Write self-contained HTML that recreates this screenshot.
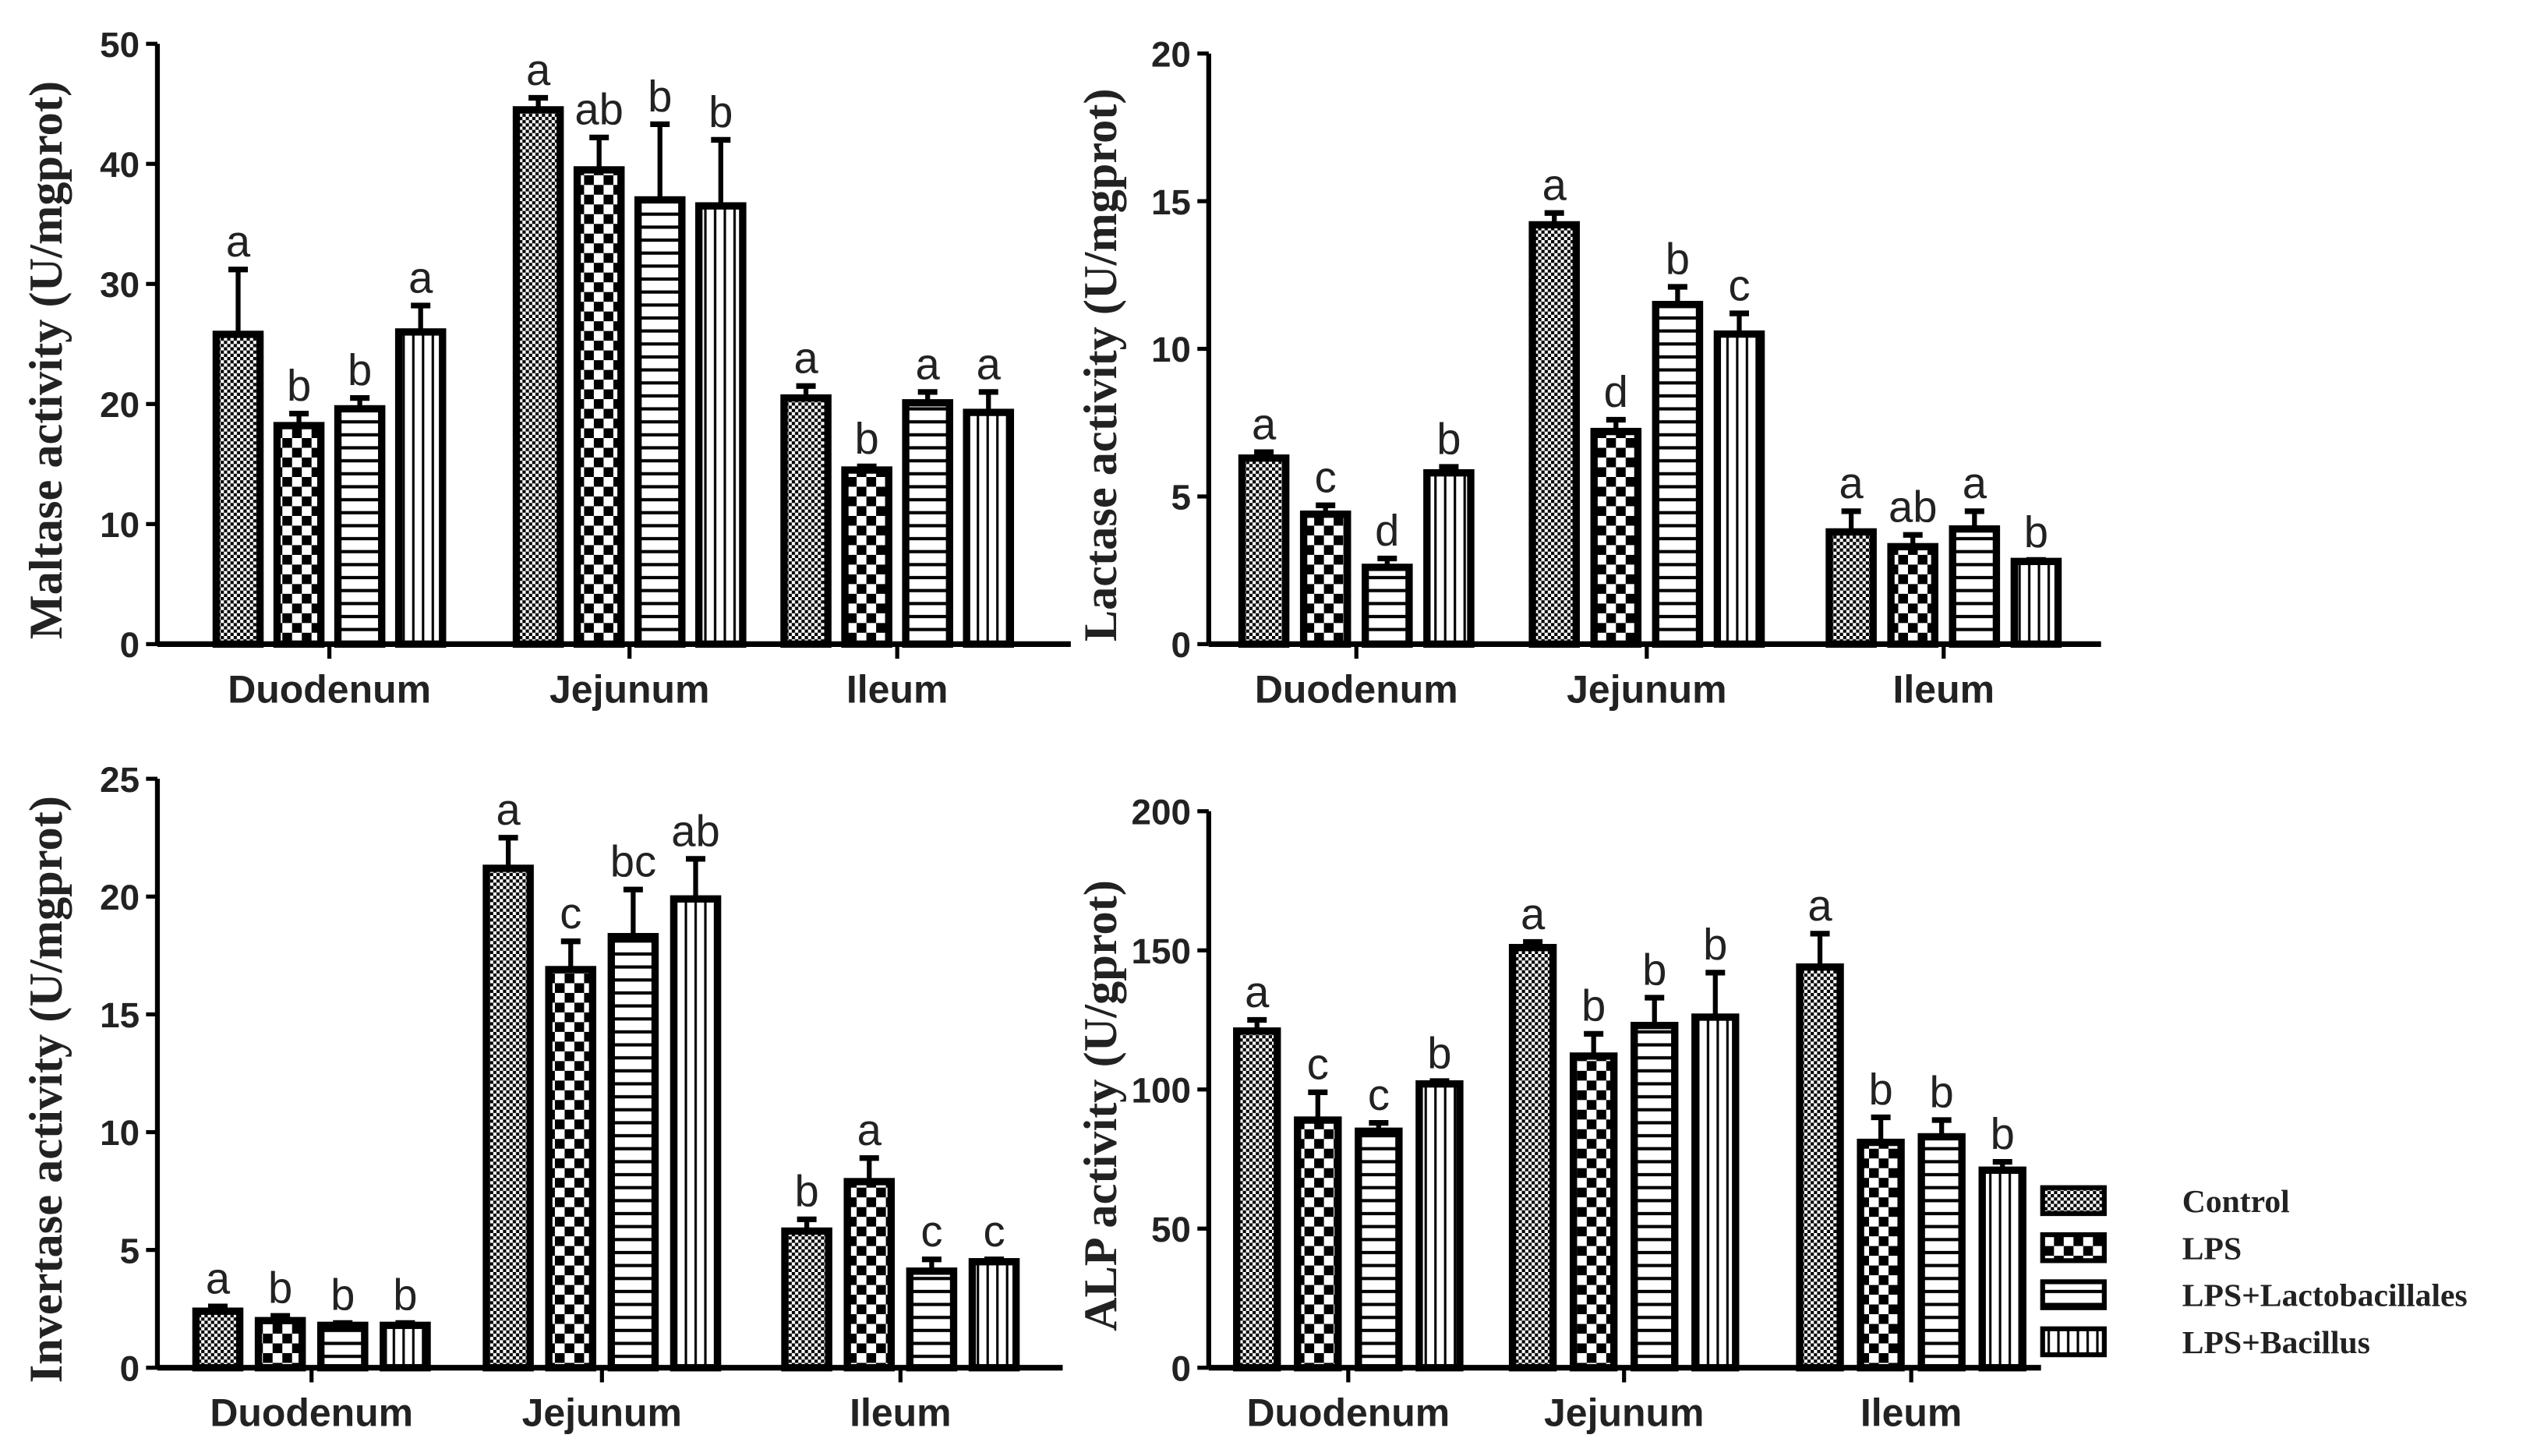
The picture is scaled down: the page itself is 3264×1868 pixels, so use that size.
<!DOCTYPE html>
<html><head><meta charset="utf-8"><style>
html,body{margin:0;padding:0;background:#fff;}
svg{display:block;}
.tick{font-family:"Liberation Sans",Arial,sans-serif;font-size:22px;font-weight:bold;fill:#222;}
.cat{font-family:"Liberation Sans",Arial,sans-serif;font-size:24px;font-weight:bold;fill:#222;}
.ytitle{font-family:"Liberation Serif",serif;font-size:29px;font-weight:bold;fill:#222;}
.letter{font-family:"Liberation Sans",Arial,sans-serif;font-size:27px;fill:#222;}
.leg{font-family:"Liberation Serif",serif;font-size:20px;font-weight:bold;fill:#222;}
</style></head><body>
<svg id="chart" width="3264" height="1868" viewBox="0 0 1568 897.4" xmlns="http://www.w3.org/2000/svg">
<defs>
<pattern id="p0" width="4" height="4" patternUnits="userSpaceOnUse"><rect width="4" height="4" fill="#fff"/><rect width="2" height="2" fill="#000"/><rect x="2" y="2" width="2" height="2" fill="#000"/></pattern>
<pattern id="p1" width="12" height="12" patternUnits="userSpaceOnUse"><rect width="12" height="12" fill="#fff"/><rect width="6" height="6" fill="#000"/><rect x="6" y="6" width="6" height="6" fill="#000"/></pattern>
<pattern id="p2" width="8" height="8" patternUnits="userSpaceOnUse"><rect width="8" height="8" fill="#fff"/><rect y="3" width="8" height="2" fill="#000"/></pattern>
<pattern id="p3" width="6" height="6" patternUnits="userSpaceOnUse"><rect width="6" height="6" fill="#fff"/><rect x="2" width="1.5" height="6" fill="#000"/></pattern>
</defs>
</svg>
<script>
const groups = ["Duodenum","Jejunum","Ileum"];
const seriesNames = ["Control","LPS","LPS+Lactobacillales","LPS+Bacillus"];
// Maltase
const maltaseVals = [[25.8,18.2,19.6,26.0],[44.5,39.5,37.0,36.5],[20.5,14.5,20.1,19.3]];
const maltaseErr  = [[5.4,1.0,0.9,2.2],[1.0,2.7,6.3,5.5],[1.0,0.3,0.9,1.7]];
const maltaseLet  = [["a","b","b","a"],["a","ab","b","b"],["a","b","a","a"]];
const maltaseTicks = [0,10,20,30,40,50];
// Lactase
const lactaseVals = [[6.3,4.4,2.6,5.8],[14.2,7.2,11.5,10.5],[3.8,3.3,3.9,2.8]];
const lactaseErr  = [[0.2,0.3,0.3,0.2],[0.4,0.4,0.6,0.7],[0.7,0.4,0.6,0.05]];
const lactaseLet  = [["a","c","d","b"],["a","d","b","c"],["a","ab","a","b"]];
const lactaseTicks = [0,5,10,15,20];
// Invertase
const invertaseVals = [[2.4,2.0,1.8,1.8],[21.2,16.9,18.3,19.9],[5.8,7.9,4.1,4.5]];
const invertaseErr  = [[0.2,0.2,0.1,0.1],[1.3,1.2,2.0,1.7],[0.5,1.0,0.5,0.1]];
const invertaseLet  = [["a","b","b","b"],["a","c","bc","ab"],["b","a","c","c"]];
const invertaseTicks = [0,5,10,15,20,25];
// ALP
const alpVals = [[121,89,85,102],[151,112,123,126],[144,81,83,71]];
const alpErr  = [[4,10,3,1],[2,8,10,16],[12,9,6,3]];
const alpLet  = [["a","c","c","b"],["a","b","b","b"],["a","b","b","b"]];
const alpTicks = [0,50,100,150,200];

const NS="http://www.w3.org/2000/svg";
const svg=document.getElementById('chart');
function mk(tag,attrs,parent){const e=document.createElementNS(NS,tag);for(const k in attrs)e.setAttribute(k,attrs[k]);(parent||svg).appendChild(e);return e;}

function panel(name,vals,errs,lets,ticks,title,L){
  const g=mk('g',{});
  
  
  const ymax=ticks[ticks.length-1];
  const y=v=>L.y0-(v/ymax)*(L.y0-L.yTop);
  const ya=mk('line',{x1:L.x0,y1:L.yTop,x2:L.x0,y2:L.y0,stroke:'#000','stroke-width':3},g);
  
  
  ticks.forEach(t=>{
    mk('line',{x1:L.x0-7,y1:y(t),x2:L.x0,y2:y(t),stroke:'#000','stroke-width':2.5},g);
    const tx=mk('text',{x:L.x0-11,y:y(t)+8,'text-anchor':'end',class:'tick'},g);
    tx.textContent=t;
    
    
  });
  const xa=mk('line',{x1:L.x0,y1:L.y0,x2:L.xEnd,y2:L.y0,stroke:'#000','stroke-width':3.5},g);
  
  
  const yt=mk('text',{x:0,y:0,'text-anchor':'middle',class:'ytitle',transform:`translate(${L.tx},${(L.y0+L.yTop)/2+10}) rotate(-90)`},g);
  yt.textContent=title;
  
  
  groups.forEach((gn,gi)=>{
    const gc=L.gx[gi];
    mk('line',{x1:gc,y1:L.y0,x2:gc,y2:L.y0+9,stroke:'#000','stroke-width':2.5},g);
    const ct=mk('text',{x:gc,y:L.y0+36,'text-anchor':'middle',class:'cat'},g);
    ct.textContent=gn;
    
    
    vals[gi].forEach((v,si)=>{
      const cx=gc+(si-1.5)*L.step;
      const top=y(v),et=y(v+errs[gi][si]);
      const el=mk('line',{x1:cx,y1:top,x2:cx,y2:et,stroke:'#000','stroke-width':3},g);
      
      
      mk('line',{x1:cx-6,y1:et,x2:cx+6,y2:et,stroke:'#000','stroke-width':3.5},g);
      const r=mk('rect',{x:cx-L.bw/2,y:top,width:L.bw,height:L.y0-top,fill:`url(#p${si})`,stroke:'#000','stroke-width':4.5},g);
      
      
      const lt=mk('text',{x:cx,y:et-8,'text-anchor':'middle',class:'letter'},g);
      lt.textContent=lets[gi][si];
      
      
    });
  });
}
panel('maltase',maltaseVals,maltaseErr,maltaseLet,maltaseTicks,'Maltase activity (U/mgprot)',
  {x0:97,y0:397,yTop:27,xEnd:660,gx:[203,388,553],step:37.5,bw:27,tx:38});
panel('lactase',lactaseVals,lactaseErr,lactaseLet,lactaseTicks,'Lactase activity (U/mgprot)',
  {x0:745,y0:397,yTop:33,xEnd:1295,gx:[836,1015,1198],step:38,bw:27,tx:688});
panel('invertase',invertaseVals,invertaseErr,invertaseLet,invertaseTicks,'Invertase activity (U/mgprot)',
  {x0:97,y0:843,yTop:480,xEnd:655,gx:[192,371,555],step:38.5,bw:27,tx:38});
panel('alp',alpVals,alpErr,alpLet,alpTicks,'ALP activity (U/gprot)',
  {x0:745,y0:843,yTop:500,xEnd:1258,gx:[831,1001,1178],step:37.5,bw:25,tx:688});

const lg=mk('g',{});


seriesNames.forEach((s,i)=>{
  const yy=740+i*29;
  const b=mk('rect',{x:1259,y:yy-8,width:38,height:16,fill:`url(#p${i})`,stroke:'#000','stroke-width':3},lg);
  
  
  const t=mk('text',{x:1345,y:yy+7,class:'leg'},lg);
  t.textContent=s;
  
  
});
</script>
</body></html>
